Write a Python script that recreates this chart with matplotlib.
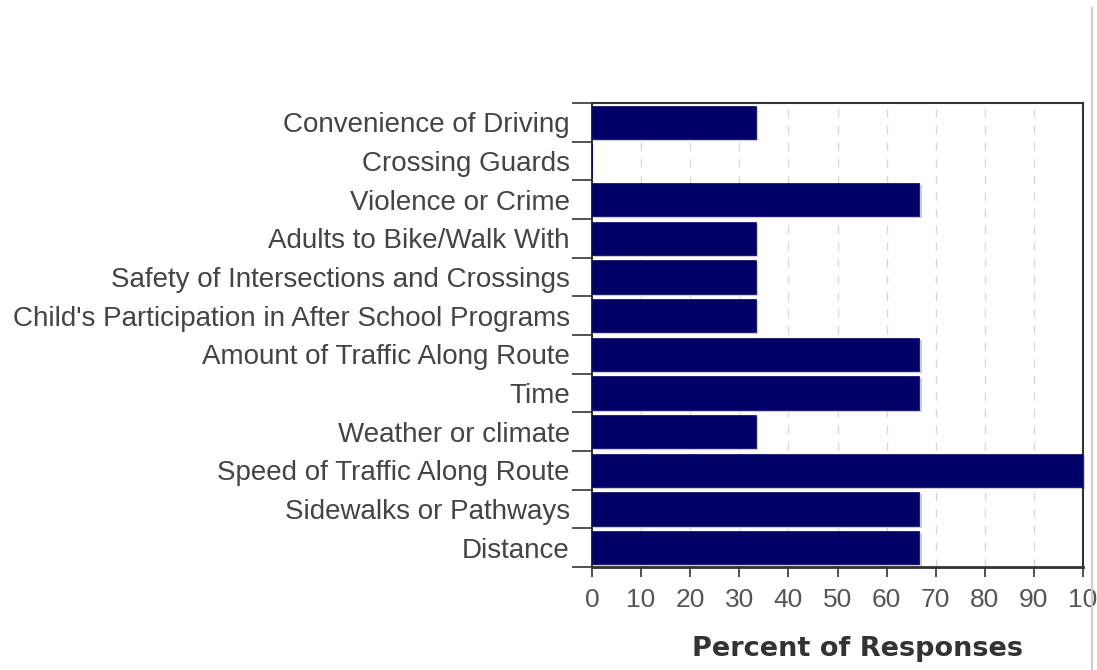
import matplotlib
matplotlib.use("Agg")
import matplotlib.pyplot as plt
from matplotlib.lines import Line2D
import numpy as np

categories = [
    "Convenience of Driving",
    "Crossing Guards",
    "Violence or Crime",
    "Adults to Bike/Walk With",
    "Safety of Intersections and Crossings",
    "Child's Participation in After School Programs",
    "Amount of Traffic Along Route",
    "Time",
    "Weather or climate",
    "Speed of Traffic Along Route",
    "Sidewalks or Pathways",
    "Distance",
]
values = [33.3, 0, 66.7, 33.3, 33.3, 33.3, 66.7, 66.7, 33.3, 100, 66.7, 66.7]
xticks = [0, 10, 20, 30, 40, 50, 60, 70, 80, 90, 100]
xticklabels = ["0", "10", "20", "30", "40", "50", "60", "70", "80", "90", "10"]

plt.rcParams['font.family'] = ['Liberation Sans', 'DejaVu Sans']

fig = plt.figure(figsize=(10.97, 6.70), dpi=100)
ax = fig.add_axes([592/1097, 1-567/670, (1083-592)/1097, (567-103)/670])

n = len(categories)
pos = np.arange(n)
h = 0.86
# shadow
ax.barh(pos + 0.05, values, height=h, left=0.5, color="#cccccc", zorder=2, clip_on=False)
ax.barh(pos, values, height=h, color="#000066", edgecolor="#000066", linewidth=0.5, zorder=3)

ax.set_xlim(0, 100)
ax.set_ylim(n - 0.5, -0.5)

ax.set_xticks(xticks)
ax.set_xticklabels(xticklabels, fontsize=19, color="#555555")
ax.xaxis.grid(True, linestyle=(0, (6, 6)), color="#d8d8d8", linewidth=1, zorder=0)
ax.set_axisbelow(True)

ax.set_yticks(np.arange(n + 1) - 0.5)
ax.set_yticklabels([])
ax.tick_params(axis='y', which='major', length=14.5, width=1.2, color="#333333")
ax.set_yticks(pos, minor=True)
ax.set_yticklabels(categories, minor=True, fontsize=20, color="#444444")
ax.tick_params(axis='y', which='minor', length=0, pad=16)
ax.tick_params(axis='x', length=7.2, width=1.2, color="#333333", pad=8)

for s in ax.spines.values():
    s.set_color("#333333")
    s.set_linewidth(1.5)
ax.spines['bottom'].set_linewidth(2)

fig.text(858/1097, 1 - 649/670, "Percent of Responses", fontsize=19.5, fontweight="bold",
         color="#333333", family=["DejaVu Sans"], ha="center", va="center")

fig.add_artist(Line2D([1092/1097, 1092/1097], [0, 1 - 8/670], color="#cccccc", linewidth=1.5))

fig.savefig("out.png", dpi=100)
